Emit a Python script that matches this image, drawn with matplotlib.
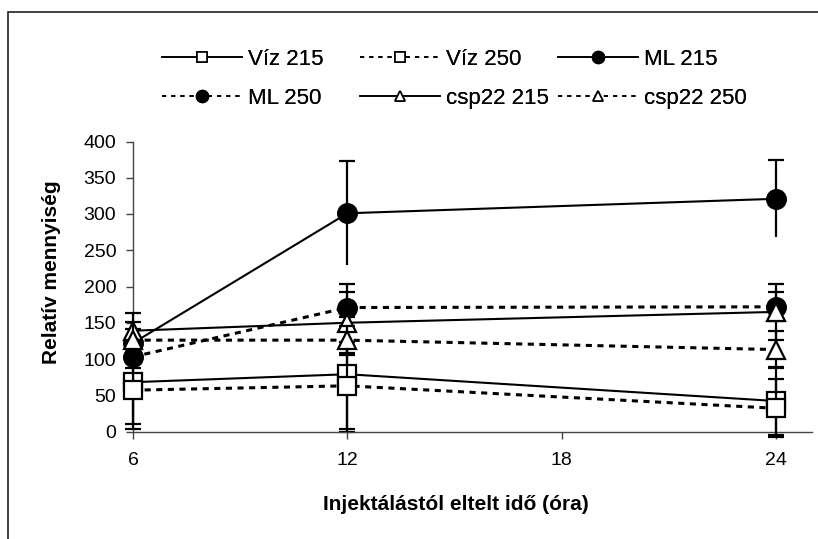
import numpy as np
import matplotlib.pyplot as plt
from matplotlib.lines import Line2D
from matplotlib.patches import Rectangle

plt.rcParams['font.family'] = ['Liberation Sans', 'DejaVu Sans']

# hours after injection
hours = [6, 12, 24]

viz215 = [68, 79, 42]
viz250 = [57, 63, 32]
ml215 = [122, 301, 321]
ml250 = [103, 171, 172]
csp215 = [139, 150, 165]
csp250 = [126, 126, 113]

viz215_err = [57, 79, 47]
viz250_err = [53, 60, 40]
ml215_err = [20, 72, 53]
ml250_err = [15, 33, 20]
csp215_err = [24, 42, 39]
csp250_err = [25, 20, 26]

labels = ['Víz 215', 'Víz 250', 'ML 215', 'ML 250', 'csp22 215', 'csp22 250']

W, H = 818, 539
fig = plt.figure(figsize=(W/100, H/100), dpi=100)
ax = fig.add_axes([133/W, (H-431.5)/H, (812-133)/W, 290/H])

solid = '-'
dot = (0, (2, 1.8))
series = [
    (viz215, viz215_err, solid, 's', 'white'),
    (viz250, viz250_err, dot, 's', 'white'),
    (ml215, ml215_err, solid, 'o', 'black'),
    (ml250, ml250_err, dot, 'o', 'black'),
    (csp215, csp215_err, solid, '^', 'white'),
    (csp250, csp250_err, dot, '^', 'white'),
]

handles = []
for i, (vals, err, ls, mk, fc) in enumerate(series):
    lw = 1.5 if ls == solid else 2.2
    ax.plot(hours, vals, color='black', linestyle=ls, linewidth=lw, zorder=2+i, clip_on=False)
    eb = ax.errorbar(hours, vals, yerr=err, fmt='none', ecolor='black', elinewidth=1.6,
                     capsize=6, capthick=1.6, zorder=2+i)
    for art in list(eb[1]) + list(eb[2]):
        art.set_clip_on(False)
    if i == 2:
        eb[1][0].set_visible(False)   # no lower cap on ML 215
    ax.plot(hours, vals, linestyle='none', marker=mk, markersize=13 if mk != 'o' else 13.5,
            markerfacecolor=fc, markeredgecolor='black', markeredgewidth=1.6,
            zorder=2+i, clip_on=False)
    handles.append(Line2D([], [], color='black', linestyle=ls if ls == solid else (0, (2.5, 3)),
                          linewidth=1.2, marker=mk, markersize=7 if mk != 'o' else 8.5,
                          markerfacecolor=fc, markeredgecolor='black', markeredgewidth=1.2))

ax.set_xlim(6, 25)
ax.set_ylim(0, 400)
ax.set_xticks([6, 12, 18, 24])
ax.set_yticks(np.arange(0, 401, 50))
ax.spines['top'].set_visible(False)
ax.spines['right'].set_visible(False)
for s in ['left', 'bottom']:
    ax.spines[s].set_color('#444444')
    ax.spines[s].set_linewidth(1.0)
ax.tick_params(axis='both', direction='out', length=5, width=1.0, color='#444444',
               labelsize=14)
ax.tick_params(axis='y', pad=7)
ax.tick_params(axis='x', pad=10)

fig.text(52/W, 1-272/H, 'Relatív mennyiség', rotation=90, ha='center', va='center',
         fontsize=15, fontweight='bold')
fig.text(456/W, 1-505/H, 'Injektálástól eltelt idő (óra)', ha='center', va='center',
         fontsize=15, fontweight='bold')

# legend: Excel grid with equal column widths -> one legend per column
col_x = [162, 360, 558]
for c in range(3):
    idx = [c, c + 3]
    leg = fig.legend([handles[k] for k in idx], [labels[k] for k in idx],
                     loc='upper left', bbox_to_anchor=(col_x[c]/W, 1-49/H),
                     frameon=False, fontsize=16, borderpad=0, borderaxespad=0,
                     handlelength=3.6, handletextpad=0.25, labelspacing=0.8)
    fig.add_artist(leg)

# chart area border (partly cropped on right and bottom)
fig.add_artist(Rectangle((8/W, -0.1), 1.2, 1-12/H+0.1, transform=fig.transFigure,
                         fill=False, edgecolor='#333333', linewidth=1.3))

fig.savefig('out.png', dpi=100)
